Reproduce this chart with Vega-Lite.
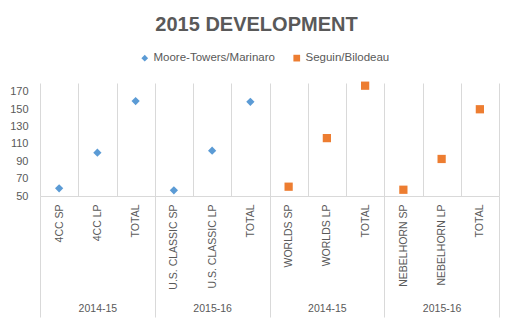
{
  "$schema": "https://vega.github.io/schema/vega-lite/v6.json",
  "width": 459,
  "height": 113,
  "autosize": {"type": "none"},
  "padding": {"left": 40, "top": 83, "right": 15, "bottom": 127},
  "background": "white",
  "title": {"text": "2015 DEVELOPMENT", "anchor": "middle", "frame": "group", "dx": -13, "offset": 1, "baseline": "alphabetic", "fontSize": 20, "fontWeight": "bold", "color": "#595959", "font": "Liberation Sans"},
  "data": {"values": [
    {"team": "Moore-Towers/Marinaro", "category": "4CC|4CC SP", "group": "Moore-Towers|2014-15", "score": 58.9},
    {"team": "Moore-Towers/Marinaro", "category": "4CC|4CC LP", "group": "Moore-Towers|2014-15", "score": 99.9},
    {"team": "Moore-Towers/Marinaro", "category": "4CC|TOTAL", "group": "Moore-Towers|2014-15", "score": 159.2},
    {"team": "Moore-Towers/Marinaro", "category": "USC|U.S. CLASSIC SP", "group": "Moore-Towers|2015-16", "score": 56.6},
    {"team": "Moore-Towers/Marinaro", "category": "USC|U.S. CLASSIC LP", "group": "Moore-Towers|2015-16", "score": 102.2},
    {"team": "Moore-Towers/Marinaro", "category": "USC|TOTAL", "group": "Moore-Towers|2015-16", "score": 158.3},
    {"team": "Seguin/Bilodeau", "category": "WOR|WORLDS SP", "group": "Seguin|2014-15", "score": 60.7},
    {"team": "Seguin/Bilodeau", "category": "WOR|WORLDS LP", "group": "Seguin|2014-15", "score": 116.6},
    {"team": "Seguin/Bilodeau", "category": "WOR|TOTAL", "group": "Seguin|2014-15", "score": 176.9},
    {"team": "Seguin/Bilodeau", "category": "NEB|NEBELHORN SP", "group": "Seguin|2015-16", "score": 57.2},
    {"team": "Seguin/Bilodeau", "category": "NEB|NEBELHORN LP", "group": "Seguin|2015-16", "score": 92.6},
    {"team": "Seguin/Bilodeau", "category": "NEB|TOTAL", "group": "Seguin|2015-16", "score": 149.8}
  ]},
  "layer": [
    {
      "mark": {"type": "point", "filled": true, "opacity": 1, "size": 68},
      "encoding": {
        "x": {"field": "category", "type": "nominal", "sort": null,
          "scale": {"type": "band", "paddingInner": 0, "paddingOuter": 0},
          "axis": {"title": null, "labelExpr": "split(datum.label, '|')[1]", "labelAngle": -90, "labelPadding": 8, "labelFontSize": 10.5, "labelColor": "#595959", "labelOverlap": false, "ticks": false, "grid": true, "tickBand": "extent", "gridColor": "#D9D9D9", "domainColor": "#D9D9D9"}},
        "y": {"field": "score", "type": "quantitative",
          "scale": {"domain": [50, 180], "nice": false, "zero": false},
          "axis": {"title": null, "values": [50, 70, 90, 110, 130, 150, 170], "domain": false, "ticks": false, "grid": false, "labelPadding": 12, "labelFontSize": 11, "labelColor": "#595959"}},
        "color": {"field": "team", "type": "nominal",
          "scale": {"domain": ["Moore-Towers/Marinaro", "Seguin/Bilodeau"], "range": ["#5B9BD5", "#ED7D31"]},
          "legend": {"title": null, "orient": "none", "legendX": 99, "legendY": -31, "direction": "horizontal", "symbolSize": 45, "labelFontSize": 11.5, "labelColor": "#595959", "labelOffset": 3, "columnPadding": 16, "padding": 0}},
        "shape": {"field": "team", "type": "nominal",
          "scale": {"domain": ["Moore-Towers/Marinaro", "Seguin/Bilodeau"], "range": ["diamond", "square"]}}
      }
    },
    {
      "mark": {"type": "point", "opacity": 0},
      "encoding": {
        "x": {"field": "group", "type": "nominal", "sort": null,
          "scale": {"type": "band", "paddingInner": 0, "paddingOuter": 0},
          "axis": {"orient": "bottom", "title": null, "labelExpr": "split(datum.label, '|')[1]", "labelAngle": 0, "domain": false, "grid": false, "ticks": true, "tickBand": "extent", "tickSize": 121, "tickColor": "#D9D9D9", "labelPadding": -9, "labelBaseline": "middle", "labelFontSize": 10.5, "labelColor": "#595959", "labelOverlap": false}}
      }
    }
  ],
  "resolve": {"scale": {"x": "independent"}},
  "config": {"font": "Liberation Sans", "view": {"stroke": null}}
}
